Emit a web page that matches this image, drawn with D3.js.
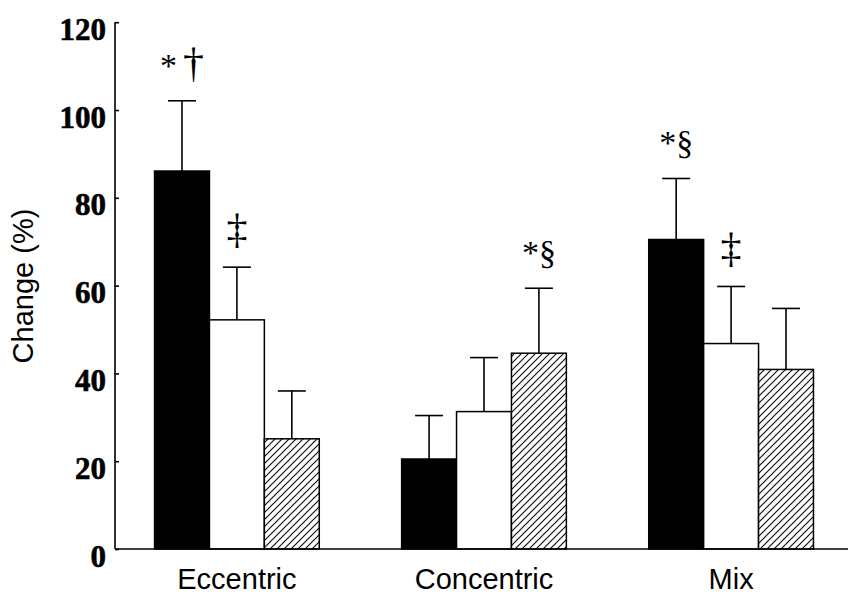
<!DOCTYPE html>
<html>
<head>
<meta charset="utf-8">
<script src="https://cdn.jsdelivr.net/npm/d3@7"></script>
<style>
  html, body { margin: 0; padding: 0; background: #fff; }
  svg { display: block; }
</style>
</head>
<body>
<svg id="chart" width="848" height="594"></svg>
<script>
// ---- data ----
const categories = ["Eccentric", "Concentric", "Mix"];
const seriesKeys = ["solid", "open", "hatched"];
const solidValues   = [86.1, 20.5, 70.5];
const openValues    = [52.2, 31.3, 46.8];
const hatchedValues = [25.1, 44.6, 40.9];
const solidErrors   = [16.0, 9.9, 13.9];
const openErrors    = [12.0, 12.3, 13.0];
const hatchedErrors = [10.9, 14.8, 13.9];
const yTicks = [0, 20, 40, 60, 80, 100, 120];
const yLabel = "Change (%)";
// significance marks: [category, series, mark, dagger-type mark]
const marks = [
  ["Eccentric", "solid", "*", "\u2020"],
  ["Eccentric", "open", "", "\u2021"],
  ["Concentric", "hatched", "*\u00A7", ""],
  ["Mix", "solid", "*\u00A7", ""],
  ["Mix", "open", "", "\u2021"]
];

const valuesBySeries = { solid: solidValues, open: openValues, hatched: hatchedValues };
const errorsBySeries = { solid: solidErrors, open: openErrors, hatched: hatchedErrors };

const rows = [];
categories.forEach((c, i) => {
  seriesKeys.forEach(k => {
    rows.push({ category: c, series: k, value: valuesBySeries[k][i], err: errorsBySeries[k][i] });
  });
});

// ---- layout ----
const svg = d3.select("#chart");
const axisX = 115, baseY = 549, topY = 22.2, rightX = 848;

const x0 = d3.scaleBand().domain(categories).range([axisX, 853]).paddingInner(1/3).paddingOuter(0.16);
const x1 = d3.scaleBand().domain(seriesKeys).range([0, x0.bandwidth()]).padding(0);
const y = d3.scaleLinear().domain([0, 120]).range([baseY, topY]);

// hatch pattern
const defs = svg.append("defs");
const pat = defs.append("pattern")
  .attr("id", "hatch").attr("patternUnits", "userSpaceOnUse")
  .attr("width", 7).attr("height", 7);
pat.append("rect").attr("width", 7).attr("height", 7).attr("fill", "#fff");
pat.append("path")
  .attr("d", "M-1,1 l2,-2 M0,7 l7,-7 M6,8 l2,-2")
  .attr("stroke", "#111").attr("stroke-width", 1.2);

const fills = { solid: "#000", open: "#fff", hatched: "url(#hatch)" };

// bars
const g = svg.append("g");
g.selectAll("rect.bar").data(rows).join("rect")
  .attr("class", "bar")
  .attr("x", d => x0(d.category) + x1(d.series))
  .attr("y", d => y(d.value))
  .attr("width", x1.bandwidth())
  .attr("height", d => y(0) - y(d.value))
  .attr("fill", d => fills[d.series])
  .attr("stroke", "#000")
  .attr("stroke-width", 1.5);

// error bars (upper only)
const capW = 28;
const eg = g.selectAll("g.err").data(rows).join("g").attr("class", "err")
  .attr("stroke", "#000").attr("stroke-width", 1.6);
eg.append("line")
  .attr("x1", d => x0(d.category) + x1(d.series) + x1.bandwidth() / 2)
  .attr("x2", d => x0(d.category) + x1(d.series) + x1.bandwidth() / 2)
  .attr("y1", d => y(d.value))
  .attr("y2", d => y(d.value + d.err));
eg.append("line")
  .attr("x1", d => x0(d.category) + x1(d.series) + x1.bandwidth() / 2 - capW / 2)
  .attr("x2", d => x0(d.category) + x1(d.series) + x1.bandwidth() / 2 + capW / 2)
  .attr("y1", d => y(d.value + d.err))
  .attr("y2", d => y(d.value + d.err));

// significance marks
const markRows = marks.map(m => {
  const r = rows.find(d => d.category === m[0] && d.series === m[1]);
  return { row: r, star: m[2], dag: m[3] };
});
const mt = g.selectAll("text.mark").data(markRows).join("text")
  .attr("class", "mark")
  .attr("x", d => x0(d.row.category) + x1(d.row.series) + x1.bandwidth() / 2)
  .attr("y", d => y(d.row.value + d.row.err) - 24)
  .attr("text-anchor", "middle")
  .attr("font-family", "'Liberation Serif', 'Times New Roman', serif")
  .attr("fill", "#000");
mt.each(function(d) {
  const t = d3.select(this);
  if (d.star) t.append("tspan").attr("font-size", 34).text(d.star);
  if (d.dag) t.append("tspan").attr("font-size", 42).attr("dx", d.star ? 6 : 0).text(d.dag);
});

// axes
const yAxis = d3.axisRight(y).tickValues(yTicks).tickSize(4).tickFormat(d3.format("d"));
const ya = svg.append("g").attr("transform", `translate(${axisX},0)`).call(yAxis);
ya.select(".domain").attr("d", `M0,${topY}H0V${baseY}`).attr("stroke", "#000").attr("stroke-width", 1.6);
ya.selectAll(".tick line").attr("stroke", "#000").attr("stroke-width", 1.6);
ya.selectAll(".tick text")
  .attr("x", -9).attr("dy", null).attr("y", 17)
  .attr("text-anchor", "end")
  .attr("font-family", "'Liberation Serif', 'Times New Roman', serif")
  .attr("font-weight", "bold")
  .attr("font-size", 31)
  .attr("stroke", "#000").attr("stroke-width", 0.6)
  .attr("fill", "#000");

const xAxis = d3.axisBottom(x0).tickSize(0);
const xa = svg.append("g").attr("transform", `translate(0,${baseY})`).call(xAxis);
xa.select(".domain").attr("d", `M${axisX},0H${rightX}`).attr("stroke", "#000").attr("stroke-width", 1.6);
xa.selectAll(".tick text")
  .attr("y", 40).attr("dy", null)
  .attr("font-family", "'Liberation Sans', Arial, sans-serif")
  .attr("font-size", 29)
  .attr("fill", "#000");

svg.append("text")
  .attr("transform", "translate(33,286) rotate(-90)")
  .attr("text-anchor", "middle")
  .attr("font-family", "'Liberation Sans', Arial, sans-serif")
  .attr("font-size", 29)
  .attr("fill", "#000")
  .text(yLabel);
</script>
</body>
</html>
